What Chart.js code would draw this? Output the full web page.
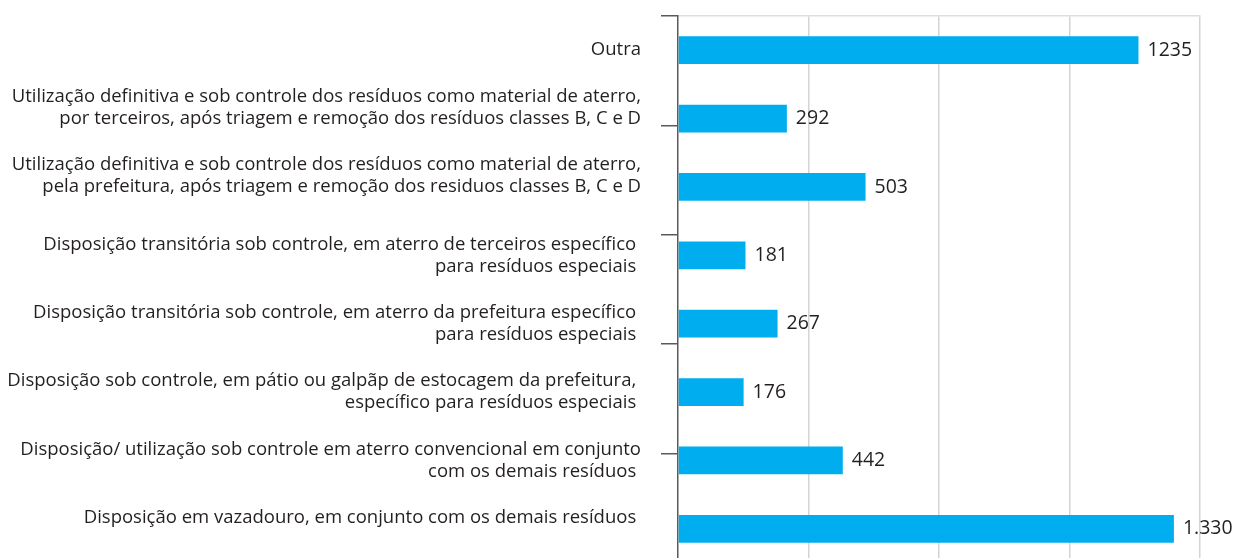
<!DOCTYPE html>
<html>
<head>
<meta charset="utf-8">
<script src="https://cdn.jsdelivr.net/npm/chart.js@4/dist/chart.umd.min.js"></script>
<style>
  html, body { margin: 0; padding: 0; background: #ffffff; width: 1233px; height: 558px; overflow: hidden; }
  #wrap { position: relative; width: 1233px; height: 563px; }
</style>
</head>
<body>
<div id="wrap"><canvas id="chart"></canvas></div>
<script>
// ---- data ----
const categories = [
  ["Outra"],
  ["Utilização definitiva e sob controle dos resíduos como material de aterro,", "por terceiros, após triagem e remoção dos resíduos classes B, C e D", ""],
  ["Utilização definitiva e sob controle dos resíduos como material de aterro,", "pela prefeitura, após triagem e remoção dos residuos classes B, C e D", ""],
  ["Disposição transitória sob controle, em aterro de terceiros específico ", "para resíduos especiais "],
  ["Disposição transitória sob controle, em aterro da prefeitura específico ", "para resíduos especiais "],
  ["Disposição sob controle, em pátio ou galpãp de estocagem da prefeitura, ", "específico para resíduos especiais "],
  ["Disposição/ utilização sob controle em aterro convencional em conjunto", "com os demais resíduos "],
  ["Disposição em vazadouro, em conjunto com os demais resíduos ", ""]
];
const values = [1235, 292, 503, 181, 267, 176, 442, 1330];
const valueLabels = ["1235", "292", "503", "181", "267", "176", "442", "1.330"];
const xTicks = [0, 350, 700, 1050, 1400];
const sideTicks = [0, 1, 2, 3, 4, 5];

const TEXT = '#231f20';

const valueLabelPlugin = {
  id: 'valueLabels',
  afterDatasetsDraw(chart) {
    const ctx = chart.ctx;
    const meta = chart.getDatasetMeta(0);
    ctx.save();
    ctx.font = '19.5px "Open Sans", "Noto Sans", sans-serif';
    ctx.fillStyle = TEXT;
    ctx.textAlign = 'left';
    ctx.textBaseline = 'middle';
    meta.data.forEach((bar, i) => {
      ctx.fillText(valueLabels[i], bar.x + 9, bar.y);
    });
    ctx.restore();
  }
};

function noPad(scale) {
  scale.paddingTop = 0;
  scale.paddingBottom = 0;
  scale.paddingLeft = 0;
  scale.paddingRight = 0;
}

new Chart(document.getElementById('chart'), {
  type: 'bar',
  data: {
    labels: categories,
    datasets: [{
      data: values,
      backgroundColor: '#00aeef',
      borderWidth: 0,
      barPercentage: 0.405,
      categoryPercentage: 1.0
    }]
  },
  options: {
    indexAxis: 'y',
    responsive: true,
    maintainAspectRatio: false,
    animation: false,
    events: [],
    layout: { padding: { top: 16, right: 33, bottom: 0, left: 0 } },
    plugins: { legend: { display: false }, tooltip: { enabled: false } },
    scales: {
      x: {
        type: 'linear',
        position: 'top',
        min: 0,
        max: 1400,
        afterBuildTicks(scale) { scale.ticks = xTicks.map(v => ({ value: v })); },
        afterFit(scale) { noPad(scale); scale.height = 0; },
        ticks: { display: false },
        grid: {
          drawTicks: false,
          lineWidth: 1.5,
          color: (c) => (c.tick && c.tick.value === 0) ? 'rgba(0,0,0,0)' : '#d4d4d4'
        },
        border: { display: true, color: '#dedede', width: 1.5 }
      },
      y: {
        type: 'category',
        position: 'left',
        weight: 1,
        afterFit(scale) { noPad(scale); scale.width = 661; },
        grid: { display: false, drawTicks: false },
        border: { display: false },
        ticks: {
          color: TEXT,
          padding: 20,
          font: { family: '"Open Sans", "Noto Sans", sans-serif', size: 18.5, lineHeight: 1.19 },
          autoSkip: false
        }
      },
      yt: {
        type: 'linear',
        axis: 'y',
        position: 'left',
        weight: 0,
        offset: false,
        min: 0,
        max: 5,
        afterBuildTicks(scale) { scale.ticks = sideTicks.map(v => ({ value: v })); },
        afterFit(scale) { noPad(scale); scale.width = 17; },
        ticks: { display: false },
        grid: {
          offset: false,
          drawOnChartArea: false,
          drawTicks: true,
          tickLength: 17,
          color: '#5a5a5a',
          lineWidth: 1.5
        },
        border: { display: true, color: '#5a5a5a', width: 1.5 }
      }
    }
  },
  plugins: [valueLabelPlugin]
});
</script>
</body>
</html>
